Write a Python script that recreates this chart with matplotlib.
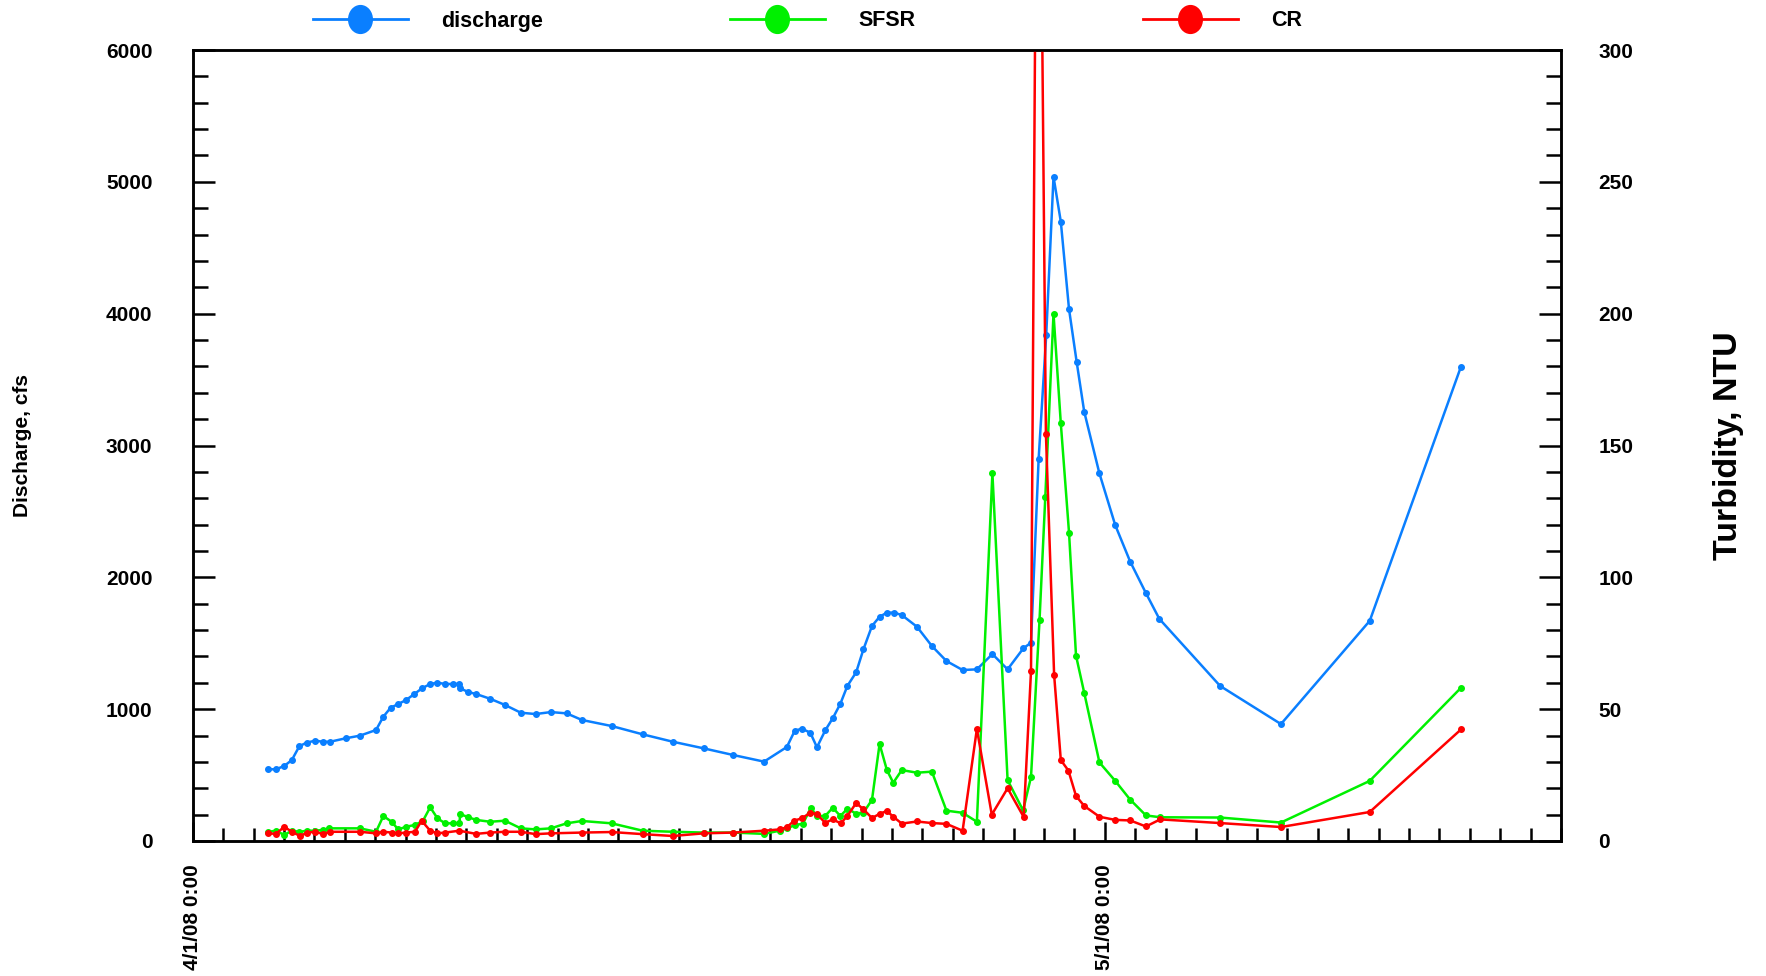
import matplotlib
matplotlib.use("Agg")
import matplotlib.pyplot as plt
from matplotlib.ticker import MultipleLocator, FixedLocator, FixedFormatter
from matplotlib.lines import Line2D
from matplotlib.path import Path
from matplotlib.transforms import Affine2D

plt.rcParams['font.family'] = ['Liberation Sans', 'DejaVu Sans']
plt.rcParams['font.weight'] = 'bold'

# ---- data (x = days since 4/1/08 0:00) ----
q_day = [2.49, 2.74, 3.01, 3.26, 3.51, 3.75, 4.02, 4.28, 4.52, 5.03, 5.50, 6.03, 6.27, 6.51,
         6.76, 7.02, 7.29, 7.54, 7.81, 8.05, 8.30, 8.55, 8.77, 8.80, 9.06, 9.32, 9.78, 10.27,
         10.79, 11.28, 11.78, 12.30, 12.80, 13.78, 14.80, 15.79, 16.80, 17.78, 18.79, 19.54,
         19.80, 20.03, 20.31, 20.53, 20.81, 21.05, 21.30, 21.53, 21.82, 22.06, 22.34, 22.59,
         22.83, 23.07, 23.32, 23.82, 24.31, 24.79, 25.32, 25.79, 26.30, 26.80, 27.32, 27.57,
         27.82, 28.07, 28.31, 28.55, 28.82, 29.07, 29.32, 29.82, 30.34, 30.83, 31.35, 31.79,
         33.79, 35.79, 38.71, 41.71]
discharge = [544, 544, 569, 614, 720, 746, 761, 753, 753, 779, 799, 842, 943, 1011,
             1039, 1070, 1115, 1158, 1191, 1201, 1191, 1191, 1191, 1158, 1130, 1115, 1079, 1032,
             973, 963, 978, 968, 918, 872, 809, 753, 703, 652, 602, 713,
             836, 852, 822, 711, 842, 931, 1041, 1176, 1280, 1455, 1631, 1701,
             1732, 1732, 1714, 1625, 1479, 1365, 1297, 1302, 1418, 1302, 1462, 1504,
             2895, 3838, 5039, 4698, 4035, 3636, 3256, 2788, 2396, 2120, 1880, 1685,
             1176, 887, 1670, 3598]

s_day = [2.49, 2.74, 3.01, 3.26, 3.51, 3.77, 4.02, 4.28, 4.49, 5.50, 6.03, 6.27, 6.54, 6.76,
         7.02, 7.31, 7.57, 7.81, 8.05, 8.30, 8.55, 8.77, 8.80, 9.07, 9.32, 9.78, 10.27, 10.79,
         11.28, 11.78, 12.30, 12.80, 13.78, 14.80, 15.79, 16.80, 17.78, 18.79, 19.30, 19.54,
         19.82, 20.06, 20.33, 20.53, 20.80, 21.05, 21.30, 21.53, 21.82, 22.06, 22.34, 22.59,
         22.83, 23.04, 23.32, 23.82, 24.31, 24.79, 25.32, 25.79, 26.30, 26.80, 27.31, 27.57,
         27.85, 28.04, 28.31, 28.55, 28.82, 29.05, 29.32, 29.82, 30.34, 30.83, 31.35, 31.82,
         33.79, 35.79, 38.71, 41.71]
sfsr = [3.5, 3.9, 2.3, 3.9, 3.5, 3.9, 3.9, 4.2, 4.8, 4.8, 3.5, 9.5, 7.3, 4.4,
        5.4, 6.1, 7.6, 12.8, 8.6, 6.7, 6.7, 6.7, 10.2, 9.0, 8.0, 7.3, 7.7, 4.8,
        4.4, 4.8, 6.7, 7.6, 6.7, 3.9, 3.5, 3.2, 3.2, 2.7, 3.9, 4.8,
        6.1, 6.5, 12.4, 9.5, 9.5, 12.6, 9.5, 12.2, 10.4, 10.8, 15.6, 36.8,
        26.9, 22.1, 26.9, 25.9, 26.3, 11.5, 10.7, 7.3, 139.5, 23.1, 11.6, 24.3,
        83.8, 130.5, 200.0, 158.4, 117.0, 70.3, 56.2, 29.8, 22.8, 15.7, 9.7, 9.0,
        8.9, 7.0, 22.8, 58.1]

c_day = [2.49, 2.74, 3.01, 3.26, 3.53, 3.77, 4.02, 4.28, 4.52, 5.50, 6.03, 6.27, 6.54, 6.76,
         7.02, 7.31, 7.53, 7.81, 8.05, 8.30, 8.77, 9.32, 9.78, 10.27, 10.79, 11.28, 11.78,
         12.80, 13.78, 14.80, 15.79, 16.80, 17.78, 18.79, 19.30, 19.54, 19.78, 20.03, 20.31,
         20.53, 20.80, 21.05, 21.31, 21.53, 21.82, 22.06, 22.34, 22.59, 22.83, 23.04, 23.32,
         23.82, 24.31, 24.79, 25.32, 25.79, 26.28, 26.80, 27.33, 27.57, 27.80, 28.06, 28.33,
         28.55, 28.80, 29.05, 29.32, 29.82, 30.34, 30.83, 31.35, 31.82, 33.79, 35.79, 38.71,
         41.71]
cr = [2.9, 2.7, 5.4, 3.5, 1.9, 3.2, 3.5, 2.7, 3.5, 3.5, 2.9, 3.5, 3.2, 2.9,
      3.2, 3.5, 7.7, 3.9, 2.9, 3.2, 3.9, 2.7, 3.2, 3.5, 3.5, 2.6, 2.9,
      3.2, 3.4, 2.6, 1.9, 2.9, 3.2, 3.9, 4.4, 5.2, 7.7, 8.6, 10.7,
      10.2, 6.9, 8.2, 6.7, 9.5, 14.4, 12.0, 8.7, 10.3, 11.4, 9.2, 6.6,
      7.4, 6.8, 6.5, 3.9, 42.5, 10.0, 20.0, 9.1, 64.4, 480.0, 154.4, 63.0,
      30.7, 26.7, 17.1, 13.3, 9.2, 8.0, 7.8, 5.5, 8.2, 6.8, 5.3, 11.0,
      42.3]

tick_days = [0, 30]
tick_labels = ['4/1/08 0:00', '5/1/08 0:00']

BLUE = '#0A7FFF'
GREEN = '#00F000'
RED = '#FF0000'

fig = plt.figure(figsize=(17.66, 9.76), dpi=100)
ax = fig.add_axes([192.7 / 1766, 1 - 841 / 976, (1561 - 192.7) / 1766, (841 - 50) / 976])
ax2 = ax.twinx()

lw = 1.8
ms = 4.0
ax.plot(q_day, discharge, color=BLUE, lw=lw, marker='o', ms=ms, mec=BLUE, mfc=BLUE)
ax2.plot(s_day, sfsr, color=GREEN, lw=lw, marker='o', ms=ms, mec=GREEN, mfc=GREEN)
ax2.plot(c_day, cr, color=RED, lw=lw, marker='o', ms=ms, mec=RED, mfc=RED)

ax.set_xlim(0, 45)
ax.set_ylim(0, 6000)
ax2.set_ylim(0, 300)

fs = 15
ax.yaxis.set_major_locator(MultipleLocator(1000))
ax.yaxis.set_minor_locator(MultipleLocator(200))
ax2.yaxis.set_major_locator(MultipleLocator(50))
ax2.yaxis.set_minor_locator(MultipleLocator(10))
ax.xaxis.set_major_locator(FixedLocator(tick_days))
ax.xaxis.set_major_formatter(FixedFormatter(tick_labels))
ax.xaxis.set_minor_locator(MultipleLocator(1))

ax.tick_params(axis='y', which='major', direction='in', length=15.6, width=1.8, labelsize=fs, pad=29)
ax.tick_params(axis='y', which='minor', direction='in', length=10.5, width=1.8)
ax2.tick_params(axis='y', which='major', direction='in', length=15.6, width=1.8, labelsize=fs, pad=27)
ax2.tick_params(axis='y', which='minor', direction='in', length=10.5, width=1.8)
ax.tick_params(axis='x', which='major', direction='in', length=14, width=1.8, labelsize=fs, pad=17,
               labelrotation=90)
ax.tick_params(axis='x', which='minor', direction='in', length=9.5, width=1.8)
for lab in ax.get_xticklabels():
    lab.set_fontweight('bold')
for lab in ax.get_yticklabels() + ax2.get_yticklabels():
    lab.set_fontweight('bold')

for a in (ax, ax2):
    for sp in a.spines.values():
        sp.set_linewidth(1.8)

ax.set_ylabel('Discharge, cfs', fontsize=15, fontweight='bold')
ax.yaxis.set_label_coords((32 - 192.7) / 1368.3, 0.5)
ax2.set_ylabel('Turbidity, NTU', fontsize=24.5, fontweight='bold')
ax2.yaxis.set_label_coords((1713 - 192.7) / 1368.3, 0.5)

# legend (three entries spaced evenly above the plot)
ell = Path.unit_circle().transformed(Affine2D().scale(0.85, 1.0))
entries = [('discharge', BLUE, 313), ('SFSR', GREEN, 730), ('CR', RED, 1143)]
for name, col, x0 in entries:
    h = Line2D([], [], color=col, lw=2, marker=ell, ms=20, mec=col, mfc=col)
    leg = fig.legend([h], [name], loc='center left', bbox_to_anchor=(x0 / 1766, 1 - 21 / 976),
                     frameon=False, borderpad=0, borderaxespad=0, handlelength=4.4,
                     handletextpad=1.55, prop={'size': 15.5, 'weight': 'bold'})

fig.savefig('out.png', dpi=100)
